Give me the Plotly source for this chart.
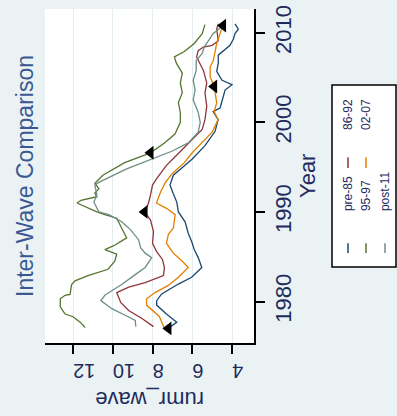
import plotly.graph_objects as go

# ---- data -------------------------------------------------------------
series_names = ["pre-85", "86-92", "95-97", "02-07", "post-11"]
series_colors = ["#1a476f", "#90353b", "#55752f", "#e37e00", "#6e8e84"]

pre85_year = [1977.0, 1977.7, 1978.6, 1979.6, 1980.1, 1980.85, 1981.95, 1982.7, 1983.8, 1984.9,
              1985.8, 1986.7, 1987.6, 1988.9, 1990.0, 1991.1, 1992.0, 1993.0, 1994.1, 1995.0,
              1995.9, 1997.4, 1998.2, 1999.0, 2000.3, 2001.2, 2001.6, 2002.9, 2003.6, 2004.2,
              2004.7, 2005.7, 2006.6, 2007.5, 2008.0, 2008.6, 2009.3, 2009.9, 2010.4, 2011.0]
pre85_rate = [7.2, 6.78, 7.3, 7.79, 7.79, 7.54, 6.70, 6.03, 5.52, 5.70,
              5.9, 6.03, 6.20, 6.36, 6.70, 6.78, 6.95, 7.12, 6.95, 6.45,
              6.0, 5.36, 5.1, 4.85, 4.70, 4.95, 4.60, 4.44, 4.35, 4.0,
              4.5, 4.77, 4.69, 4.69, 4.44, 4.1, 3.93, 3.85, 3.68, 3.85]

w8692_year = [1977.2, 1978.1, 1979.0, 1979.9, 1981.0, 1981.6, 1982.1, 1982.9, 1983.8, 1984.7,
              1985.6, 1986.5, 1987.8, 1989.1, 1990.0, 1991.0, 1991.9, 1993.0, 1993.7, 1995.2,
              1996.3, 1997.4, 1998.3, 1999.2, 2000.3, 2001.8, 2003.3, 2004.4, 2005.8, 2006.6,
              2007.3, 2008.0, 2008.4, 2008.6, 2009.1, 2010.4, 2011.0]
w8692_rate = [7.95, 8.53, 9.2, 9.6, 9.8, 9.2, 8.37, 7.45, 7.4, 7.5,
              7.8, 8.0, 7.95, 8.1, 8.4, 8.2, 8.1, 8.0, 7.8, 7.3,
              6.8, 6.3, 5.9, 5.5, 5.36, 5.27, 5.36, 5.27, 5.44, 5.61,
              5.78, 5.7, 5.44, 5.0, 4.69, 4.77, 4.69]

w9597_year = [1977.1, 1977.7, 1978.3, 1978.6, 1979.4, 1980.3, 1980.7, 1980.8, 1981.9, 1982.3,
              1982.9, 1983.6, 1984.5, 1985.3, 1985.8, 1986.2, 1987.1, 1987.8, 1988.6, 1989.3,
              1989.7, 1990.0, 1991.0, 1991.3, 1991.7, 1992.1, 1992.6, 1993.2, 1994.1, 1995.5,
              1996.6, 1997.7, 1998.7, 2000.0, 2001.1, 2002.2, 2003.3, 2004.4, 2005.5, 2006.6,
              2007.3, 2007.9, 2008.8, 2009.9, 2010.9]
w9597_rate = [11.39, 11.64, 12.0, 12.4, 12.64, 12.64, 12.4, 12.15, 12.07, 11.9,
              11.25, 10.24, 9.9, 9.8, 10.4, 9.97, 9.3, 9.46, 9.63, 9.8,
              10.4, 10.8, 11.8, 11.6, 10.8, 10.9, 10.7, 10.9, 10.5, 9.4,
              8.1, 7.4, 6.87, 6.6, 6.6, 6.7, 6.5, 6.6, 6.5, 6.8,
              6.9, 6.4, 5.9, 5.5, 5.36]

w0207_year = [1977.0, 1978.3, 1979.6, 1980.3, 1981.0, 1981.8, 1982.7, 1983.8, 1984.5, 1985.4,
              1986.5, 1987.5, 1988.2, 1989.7, 1990.4, 1991.0, 1992.2, 1993.3, 1994.3, 1995.5,
              1996.6, 1997.7, 1998.9, 2000.3, 2001.2, 2002.2, 2003.3, 2004.0, 2005.1, 2006.2,
              2006.9, 2007.7, 2008.8, 2009.9, 2010.6]
w0207_rate = [7.4, 7.65, 8.3, 8.3, 7.87, 7.2, 6.7, 6.2, 6.5, 6.95,
              7.3, 7.2, 6.95, 6.86, 7.3, 7.8, 7.6, 7.35, 7.0, 6.4,
              6.0, 5.5, 5.0, 4.7, 4.9, 4.77, 4.85, 4.9, 5.1, 5.1,
              4.94, 4.86, 4.77, 4.6, 4.5]

post11_year = [1977.2, 1977.9, 1978.5, 1979.2, 1980.1, 1980.7, 1981.2, 1981.9, 1983.0, 1983.8,
               1984.9, 1985.4, 1986.0, 1986.9, 1988.0, 1988.9, 1989.7, 1990.0, 1991.1, 1991.9,
               1993.0, 1993.3, 1994.8, 1996.1, 1996.8, 1997.7, 1998.9, 2000.0, 2001.1, 2002.5,
               2003.6, 2004.7, 2005.8, 2006.9, 2007.7, 2008.4, 2009.1, 2009.9, 2010.8]
post11_rate = [8.84, 8.87, 9.4, 10.05, 10.6, 10.4, 10.05, 9.55, 8.87, 8.37,
               8.04, 8.37, 8.6, 8.7, 9.1, 9.55, 10.2, 10.7, 10.95, 10.8,
               10.9, 10.7, 9.3, 7.8, 7.0, 6.2, 5.7, 5.6, 5.7, 5.95,
               5.86, 5.95, 5.8, 5.8, 5.5, 5.4, 5.2, 4.95, 4.45]

# year at which each wave is marked on its own line
wave_year = [1977.0, 1990.0, 1996.6, 2004.0, 2010.8]

year_ticks = [1980, 1990, 2000, 2010]
rate_ticks = [4, 6, 8, 10, 12]

years = [pre85_year, w8692_year, w9597_year, w0207_year, post11_year]
rates = [pre85_rate, w8692_rate, w9597_rate, w0207_rate, post11_rate]

# ---- figure -----------------------------------------------------------
FONT = "Liberation Sans"
LABEL = "#1f2b5e"
BG = "#eaf2f3"

fig = go.Figure()

for name, col, yr, rt in zip(series_names, series_colors, years, rates):
    fig.add_trace(go.Scatter(x=rt, y=yr, mode="lines", name=name,
                             line=dict(color=col, width=1.3), showlegend=False))

mx, my = [], []
for yr, rt, wy in zip(years, rates, wave_year):
    i = yr.index(wy)
    mx.append(rt[i])
    my.append(wy)
fig.add_trace(go.Scatter(x=mx, y=my, mode="markers", showlegend=False,
                         marker=dict(symbol="triangle-left", size=12, color="black")))

fig.update_xaxes(range=[13.41, 2.893], tickvals=rate_ticks, ticktext=[str(v) for v in rate_ticks],
                 tickangle=180, showgrid=True, gridcolor="#e4edf0", gridwidth=1,
                 zeroline=False, showline=True, linecolor="black", linewidth=1.5,
                 ticks="outside", ticklen=9, tickwidth=1.5, tickcolor="black",
                 ticklabelstandoff=6,
                 tickfont=dict(family=FONT, size=20, color=LABEL))
fig.update_yaxes(range=[1975.37, 2012.65], tickvals=year_ticks, side="right",
                 tickangle=-90, showgrid=False, zeroline=False, showline=True,
                 linecolor="black", linewidth=1.5, ticks="outside", ticklen=9,
                 tickwidth=1.5, tickcolor="black",
                 tickfont=dict(family=FONT, size=22, color=LABEL))

# paper-coordinate helpers (plot area spans 45..254 px across, 5..343 px down)
def px(x):
    return (x - 45) / 209.0

def py(y):
    return (343 - y) / 338.0

ann = [
    dict(text="Inter-Wave Comparison", x=px(25), y=0.5, textangle=-90,
         font=dict(family=FONT, size=23, color="#3a5894")),
    dict(text="rumr_wave", x=0.5, y=py(400), textangle=180,
         font=dict(family=FONT, size=22, color=LABEL)),
    dict(text="Year", x=px(307), y=0.5, textangle=-90,
         font=dict(family=FONT, size=22, color=LABEL)),
]
for a in ann:
    a.update(xref="paper", yref="paper", showarrow=False, xanchor="center", yanchor="middle")

shapes = [dict(type="rect", xref="paper", yref="paper", x0=px(332), x1=px(396),
               y0=py(266), y1=py(82), fillcolor="white", line=dict(color="black", width=1.5),
               layer="below")]

# legend laid out in the same rotated frame as the axes
legend_x = [348, 348, 366, 366, 385]
legend_row = [0, 1, 0, 1, 0]
text_start = [212, 130]
sample_span = [(242, 252), (155, 166)]
for name, col, lx, row in zip(series_names, series_colors, legend_x, legend_row):
    s0, s1 = sample_span[row]
    shapes.append(dict(type="line", xref="paper", yref="paper", x0=px(lx), x1=px(lx),
                       y0=py(s1), y1=py(s0), line=dict(color=col, width=1.5)))
    ann.append(dict(text=name, xref="paper", yref="paper", x=px(lx), y=py(text_start[row]),
                    textangle=-90, showarrow=False, xanchor="center", yanchor="bottom",
                    font=dict(family=FONT, size=12, color=LABEL)))

fig.update_layout(width=397, height=416, margin=dict(l=45, r=143, t=5, b=73),
                  paper_bgcolor=BG, plot_bgcolor="white", showlegend=False,
                  annotations=ann, shapes=shapes, font=dict(family=FONT))

fig.write_html("out.html")
